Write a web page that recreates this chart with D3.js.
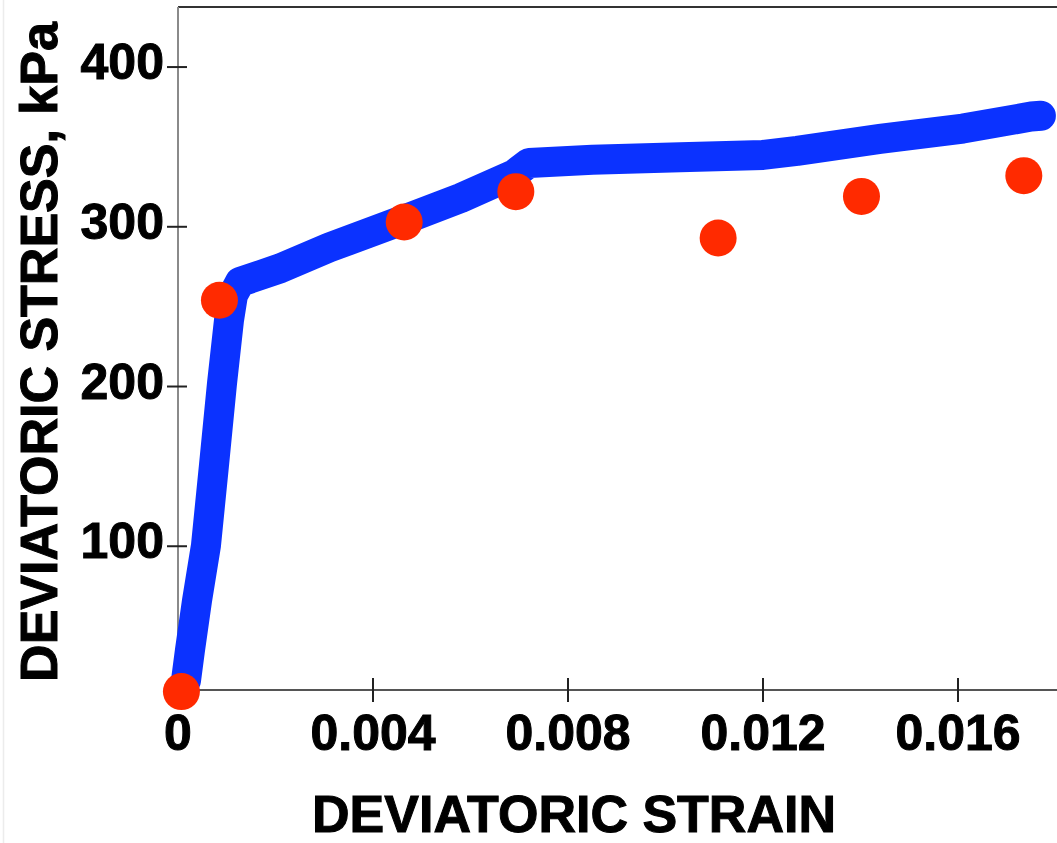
<!DOCTYPE html>
<html>
<head>
<meta charset="utf-8">
<script src="https://cdn.jsdelivr.net/npm/d3@7/dist/d3.min.js"></script>
<style>
  html, body { margin: 0; padding: 0; background: #fff; }
  svg { display: block; }
  text { font-family: "Liberation Sans", Arial, Helvetica, sans-serif; font-weight: bold; fill: #000;
         stroke: #000; stroke-width: 1; }
</style>
</head>
<body>
<svg id="chart" width="1057" height="843"></svg>
<script>
// Measured stress–strain response (continuous curve)
const curveStrain = [0.0001, 0.000164, 0.000246, 0.00039, 0.000574, 0.000738, 0.000903, 0.001046,
                     0.001128, 0.00127, 0.0021, 0.0031, 0.0046, 0.0058, 0.0069, 0.0072,
                     0.0085, 0.0103, 0.0120, 0.0127, 0.0144, 0.0161, 0.0175, 0.0177];
const curveStress = [12, 16, 35, 66, 100.6, 150.7, 202, 241.6,
                     257.3, 265.4, 274, 287, 304, 318, 333, 340,
                     342, 343.5, 345, 347.5, 355, 361.5, 369, 369.5];

// Model predictions (discrete points)
const pointStrain = [0.00007, 0.00085, 0.00464, 0.00693, 0.01108, 0.01402, 0.01735];
const pointStress = [9, 254, 303, 322, 293, 319, 332];

// Axis ticks
const xTicks = [0, 0.004, 0.008, 0.012, 0.016];
const xTickLabels = ["0", "0.004", "0.008", "0.012", "0.016"];
const yTicks = [100, 200, 300, 400];
const yTickLabels = ["100", "200", "300", "400"];

const xTitle = "DEVIATORIC STRAIN";
const yTitle = "DEVIATORIC STRESS, kPa";

const svg = d3.select("#chart");

const plotLeft = 178, plotRight = 1055.5, plotTop = 7, plotBottom = 690;

const x = d3.scaleLinear().domain([0, 0.018]).range([plotLeft, plotRight]);
const y = d3.scaleLinear().domain([10, 437.6]).range([plotBottom, plotTop]);

// faint frame edge on the left
svg.append("line")
  .attr("x1", 3.5).attr("x2", 3.5).attr("y1", 0).attr("y2", 843)
  .attr("stroke", "#ececec").attr("stroke-width", 1.5);

// top border
svg.append("line")
  .attr("x1", plotLeft).attr("x2", 1057).attr("y1", plotTop).attr("y2", plotTop)
  .attr("stroke", "#333").attr("stroke-width", 2);

// left axis line
svg.append("line")
  .attr("x1", plotLeft).attr("x2", plotLeft).attr("y1", plotTop).attr("y2", plotBottom)
  .attr("stroke", "#8a8a8a").attr("stroke-width", 2);

// bottom axis line
svg.append("line")
  .attr("x1", plotLeft).attr("x2", 1057).attr("y1", plotBottom).attr("y2", plotBottom)
  .attr("stroke", "#555").attr("stroke-width", 2);

// x ticks (cross the axis)
const xt = svg.append("g");
xt.selectAll("line").data(xTicks.slice(1)).join("line")
  .attr("x1", d => x(d)).attr("x2", d => x(d))
  .attr("y1", plotBottom - 12).attr("y2", plotBottom + 12)
  .attr("stroke", "#222").attr("stroke-width", 2);
xt.selectAll("text").data(xTicks).join("text")
  .attr("x", d => x(d)).attr("y", 750)
  .attr("text-anchor", "middle")
  .attr("font-size", 50)
  .text((d, i) => xTickLabels[i]);

// y ticks (cross the axis)
const yt = svg.append("g");
yt.selectAll("line").data(yTicks).join("line")
  .attr("x1", plotLeft - 11).attr("x2", plotLeft + 9)
  .attr("y1", d => y(d)).attr("y2", d => y(d))
  .attr("stroke", "#222").attr("stroke-width", 2);
yt.selectAll("text").data(yTicks).join("text")
  .attr("x", 164).attr("y", d => y(d) + 12)
  .attr("text-anchor", "end")
  .attr("font-size", 50)
  .text((d, i) => yTickLabels[i]);

// axis titles
svg.append("text")
  .attr("x", 574).attr("y", 832)
  .attr("text-anchor", "middle")
  .attr("font-size", 52)
  .text(xTitle);

svg.append("text")
  .attr("transform", "translate(57,352) rotate(-90)")
  .attr("text-anchor", "middle")
  .attr("font-size", 52)
  .text(yTitle);

// measured curve
const curve = curveStrain.map((s, i) => [s, curveStress[i]]);
svg.append("path")
  .datum(curve)
  .attr("fill", "none")
  .attr("stroke", "#0b32ff")
  .attr("stroke-width", 30)
  .attr("stroke-linecap", "round")
  .attr("stroke-linejoin", "round")
  .attr("d", d3.line().x(d => x(d[0])).y(d => y(d[1])));

// model points
const pts = pointStrain.map((s, i) => [s, pointStress[i]]);
svg.append("g").selectAll("circle").data(pts).join("circle")
  .attr("cx", d => x(d[0]))
  .attr("cy", d => y(d[1]))
  .attr("r", 18.5)
  .attr("fill", "#ff2a00");
</script>
</body>
</html>
